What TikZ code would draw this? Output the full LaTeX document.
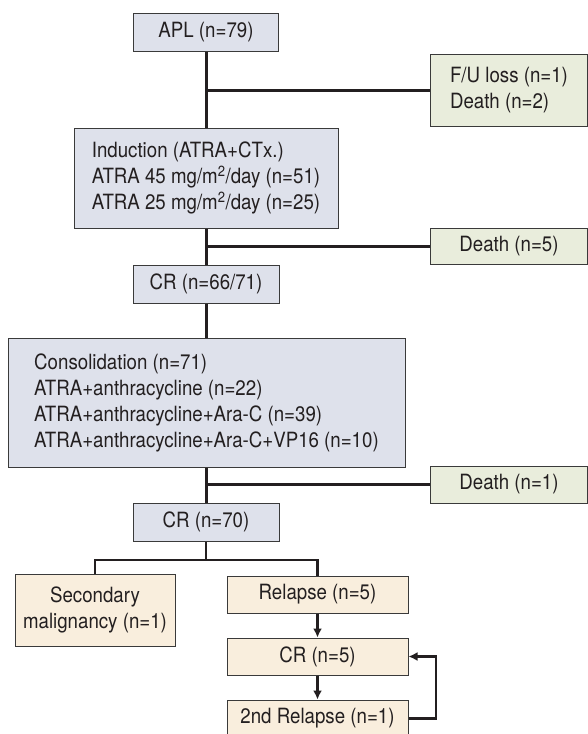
\documentclass[tikz,border=0pt]{standalone}
\usepackage{fontspec}
\setmainfont{TeX Gyre Heros}[FakeStretch=0.89]
\usetikzlibrary{arrows.meta}
\definecolor{bluebox}{HTML}{DEE1EB}
\definecolor{greenbox}{HTML}{E9EDDC}
\definecolor{sandbox}{HTML}{F9EEDD}
\definecolor{boxline}{HTML}{3A3A3A}
\definecolor{ink}{HTML}{231F20}

\begin{document}
\begin{tikzpicture}[x=1pt,y=-1pt,
	box/.style={draw=boxline,line width=1pt,inner sep=0pt,text=ink,font=\fontsize{21}{26}\selectfont},
	blue/.style={box,fill=bluebox},
	green/.style={box,fill=greenbox,minimum width=157},
	sand/.style={box,fill=sandbox},
	link/.style={line width=3pt,draw=ink},
	flow/.style={line width=2.6pt,draw=ink,-{Latex[length=9pt,width=9pt]}}]
			\useasboundingbox (0,0) rectangle (588,734);
			
			% main column
			\node[blue,minimum width=145,minimum height=38] (apl) at (206,32) {APL (n=79)};
			\node[blue,minimum width=264,minimum height=100,align=left] (ind) at (206,178) {Induction (ATRA+CTx.)\\ATRA 45 mg/m\textsuperscript{2}/day (n=51)\\ATRA 25 mg/m\textsuperscript{2}/day (n=25)};
			\node[blue,minimum width=146,minimum height=38] (cr1) at (206,284) {CR (n=66/71)};
			\node[blue,minimum width=397,minimum height=129,align=left] (cons) at (206.5,402.5) {Consolidation (n=71)\\ATRA+anthracycline (n=22)\\ATRA+anthracycline+Ara-C (n=39)\\ATRA+anthracycline+Ara-C+VP16 (n=10)};
			\node[blue,minimum width=146,minimum height=38] (cr2) at (206,522) {CR (n=70)};
			
			% losses on the right
			\node[green,minimum height=72,align=left] (fu) at (509,90) {F/U loss (n=1)\\Death (n=2)};
			\node[green,minimum height=36] (d5) at (509,246) {Death (n=5)};
			\node[green,minimum height=37] (d1) at (509,484.5) {Death (n=1)};
			
			% after CR
			\node[sand,minimum width=160,minimum height=72,align=center] (sec) at (95,610) {Secondary\\malignancy (n=1)};
			\node[sand,minimum width=181,minimum height=37] (rel) at (317.5,594.5) {Relapse (n=5)};
			\node[sand,minimum width=181,minimum height=37] (cr3) at (317.5,656.5) {CR (n=5)};
			\node[sand,minimum width=181,minimum height=37] (rel2) at (317.5,718.5) {2nd Relapse (n=1)};
			
			\coordinate (split) at (206,560); \coordinate (back) at (436,687);
			
			\draw[link] (apl) -- (ind); \draw[link] (apl.south |- fu.west) -- (fu.west);
			\draw[link] (ind) -- (cr1); \draw[link] (cr1.north |- d5.west) -- (d5.west);
			\draw[link] (cr1.south) -- (cr1.south |- cons.north);
			\draw[link] (cr2.north |- cons.south) -- (cr2.north); \draw[link] (cr2.north |- d1.west) -- (d1.west);
			\draw[link,line width=2.6pt] (cr2.south) -- (split);
			\draw[link,line width=2.6pt] (sec.north) |- (split) -| (rel.north);
			
			\draw[flow] (rel) -- (cr3); \draw[flow] (cr3) -- (rel2);
			\draw[flow] (rel2.east) -- (rel2.east -| back) |- (cr3.east);
			\end{tikzpicture}
\end{document}
